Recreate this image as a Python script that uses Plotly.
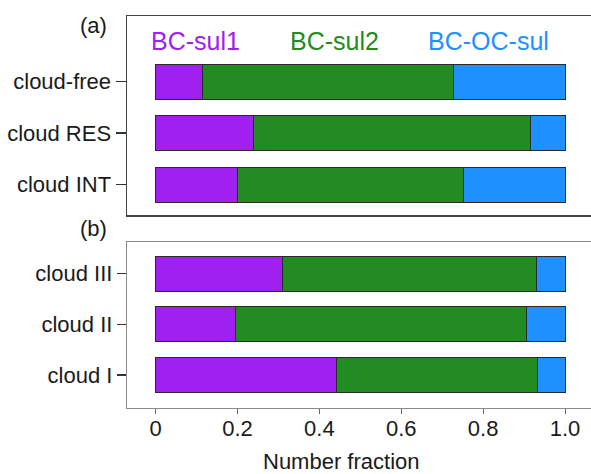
import plotly.graph_objects as go

series = ["BC-sul1", "BC-sul2", "BC-OC-sul"]
colors = ["#A020F0", "#228B22", "#1E90FF"]

# panel (a), listed bottom to top
cats_a = ["cloud INT", "cloud RES", "cloud-free"]
sul1_a = [0.201, 0.238, 0.114]
sul2_a = [0.550, 0.677, 0.614]
ocsul_a = [0.249, 0.085, 0.272]

# panel (b), listed bottom to top
cats_b = ["cloud I", "cloud II", "cloud III"]
sul1_b = [0.441, 0.195, 0.310]
sul2_b = [0.492, 0.712, 0.621]
ocsul_b = [0.067, 0.093, 0.069]

xticks = [0, 0.2, 0.4, 0.6, 0.8, 1.0]
xticklabels = ["0", "0.2", "0.4", "0.6", "0.8", "1.0"]

FONT = "Liberation Sans, Arial, sans-serif"
W, H = 591, 474


def PX(x):
    return x / W


def PY(y):
    return 1 - y / H


fig = go.Figure()

vals_a = [sul1_a, sul2_a, ocsul_a]
vals_b = [sul1_b, sul2_b, ocsul_b]
for i, name in enumerate(series):
    fig.add_trace(go.Bar(y=cats_a, x=vals_a[i], orientation="h", name=name,
                         marker=dict(color=colors[i], line=dict(color="#2a2a2a", width=1)),
                         width=0.68, xaxis="x2", yaxis="y2", showlegend=False,
                         hoverinfo="skip"))
    fig.add_trace(go.Bar(y=cats_b, x=vals_b[i], orientation="h", name=name,
                         marker=dict(color=colors[i], line=dict(color="#2a2a2a", width=1)),
                         width=0.69, xaxis="x", yaxis="y", showlegend=False,
                         hoverinfo="skip"))

# plot box runs from x=127px to the right edge of the picture
xr = [-0.070, 1.0635]
fig.update_layout(
    width=W, height=H,
    margin=dict(l=0, r=0, t=0, b=0),
    paper_bgcolor="white", plot_bgcolor="white",
    barmode="stack", bargap=0,
    font=dict(family=FONT, size=22, color="#1a1a1a"),
    xaxis=dict(domain=[PX(127), 1.0], range=xr, anchor="y", automargin=False,
               tickmode="array", tickvals=xticks, ticktext=xticklabels,
               ticks="outside", ticklen=5, tickcolor="#666", tickwidth=1,
               ticklabelstandoff=-5,
               showline=True, mirror=True, linecolor="#8a8a8a", linewidth=1.2,
               showgrid=False, zeroline=False, tickfont=dict(size=22)),
    yaxis=dict(domain=[PY(408), PY(242)], anchor="x", automargin=False,
               type="category", categoryarray=cats_b, range=[-0.650, 2.621],
               ticks="outside", ticklen=9, tickcolor="#333", tickwidth=1.2,
               showline=True, mirror=False, linecolor="#8a8a8a", linewidth=1.2,
               showgrid=False, zeroline=False, tickfont=dict(size=22)),
    xaxis2=dict(domain=[PX(127), 1.0], range=xr, anchor="y2", automargin=False,
                showticklabels=False, ticks="",
                showline=True, mirror=True, linecolor="#444", linewidth=1.5,
                showgrid=False, zeroline=False),
    yaxis2=dict(domain=[PY(215), PY(16)], anchor="x2", automargin=False,
                type="category", categoryarray=cats_a, range=[-0.592, 3.272],
                ticks="outside", ticklen=10, tickcolor="#333", tickwidth=1.2,
                showline=True, mirror=False, linecolor="#444", linewidth=1.5,
                showgrid=False, zeroline=False, tickfont=dict(size=22)),
)

# legend labels as coloured text in panel (a)
leg_x = [0.098, 0.438, 0.812]
for name, col, lx in zip(series, colors, leg_x):
    fig.add_annotation(x=lx, y=2.786, xref="x2", yref="y2", text=name,
                       xanchor="center", yanchor="middle",
                       showarrow=False, font=dict(size=25, color=col, family=FONT))

fig.add_annotation(x=PX(93), y=PY(25), xref="paper", yref="paper", text="(a)",
                   xanchor="center", yanchor="middle",
                   showarrow=False, font=dict(size=22, family=FONT))
fig.add_annotation(x=PX(93), y=PY(228), xref="paper", yref="paper", text="(b)",
                   xanchor="center", yanchor="middle",
                   showarrow=False, font=dict(size=22, family=FONT))
fig.add_annotation(x=PX(341.7), y=PY(461), xref="paper", yref="paper",
                   text="Number fraction", showarrow=False,
                   xanchor="center", yanchor="middle",
                   font=dict(size=22, family=FONT))

fig.write_html(
    "out.html",
    config={"displayModeBar": False, "staticPlot": True},
    post_script="document.body.style.margin='0px';document.body.style.overflow='hidden';",
)
